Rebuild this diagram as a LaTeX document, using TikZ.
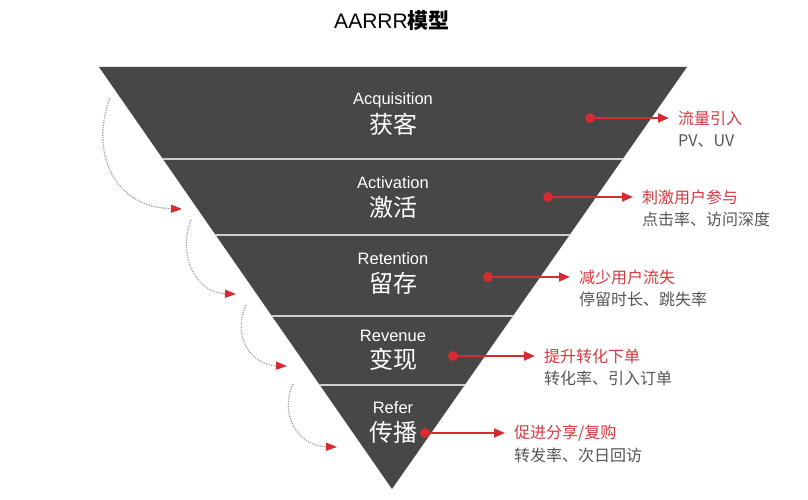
\documentclass[tikz,border=0pt]{standalone}
\usepackage{fontspec}
\setmainfont{Liberation Sans}
\newfontfamily\cjk{Noto Sans CJK SC}
\usetikzlibrary{arrows.meta}
\definecolor{funnel}{HTML}{474747}
\definecolor{sepc}{HTML}{CFCFCF}
\definecolor{redc}{HTML}{D62B32}
\definecolor{redt}{HTML}{D23A40}
\definecolor{subt}{HTML}{555555}
\definecolor{dotc}{HTML}{9A9A9A}
\begin{document}
\begin{tikzpicture}[x=1pt,y=-1pt,
  en/.style={text=white,font=\fontsize{16.5}{16.5}\selectfont,inner sep=0pt,anchor=center},
  zh/.style={text=white,font=\cjk\fontsize{24}{24}\selectfont,inner sep=0pt,anchor=center},
  reddot/.style={circle,fill=redc,minimum size=10pt,inner sep=0pt},
  redarrow/.style={draw=redc,line width=1.8pt,-{Triangle[length=11pt,width=9pt]}},
  lbl/.style={text=redt,font=\cjk\fontsize{16}{16}\selectfont,inner sep=0pt,anchor=west},
  sub/.style={text=subt,font=\cjk\fontsize{16}{16}\selectfont,inner sep=0pt,anchor=west},
  dotarc/.style={draw=dotc,line width=1.2pt,dash pattern=on 1.2pt off 1.3pt,
    -{Triangle[length=11pt,width=8pt,color=redc]}}]
\useasboundingbox (0,0) rectangle (808,500);
\fill[white] (0,0) rectangle (808,500);
% title
\node[inner sep=0pt] (title) at (392,21) {\fontsize{21}{21}\selectfont AARRR{\cjk\bfseries 模型}};
% funnel
\coordinate (tl) at (99,67);
\coordinate (tr) at (687,67);
\coordinate (ap) at (392,489);
\fill[funnel] (tl) -- (tr) -- (ap) -- cycle;
\begin{scope}
  \clip (tl) -- (tr) -- (ap) -- cycle;
  \foreach \yy in {159,235,316,385} \draw[sepc,line width=2.2pt] (0,\yy) -- (808,\yy);
\end{scope}
% stage texts
\node[en] (e1) at (393,100) {Acquisition};
\node[zh] (z1) at (393,124) {获客};
\node[en] (e2) at (393,183) {Activation};
\node[zh] (z2) at (393,207) {激活};
\node[en] (e3) at (393,259) {Retention};
\node[zh] (z3) at (393,283) {留存};
\node[en] (e4) at (393,336) {Revenue};
\node[zh] (z4) at (393,359) {变现};
\node[en] (e5) at (393,408) {Refer};
\node[zh] (z5) at (393,432) {传播};
% dots and labels
\node[reddot] (d1) at (590,118) {};
\node[lbl] (t1) at (678,118) {流量引入};
\node[sub] (s1) at (678,141) {PV、UV};
\node[reddot] (d2) at (548,197) {};
\node[lbl] (t2) at (642,197) {刺激用户参与};
\node[sub] (s2) at (642,219) {点击率、访问深度};
\node[reddot] (d3) at (488,277) {};
\node[lbl] (t3) at (579,277) {减少用户流失};
\node[sub] (s3) at (579,299) {停留时长、跳失率};
\node[reddot] (d4) at (453,356) {};
\node[lbl] (t4) at (544,356) {提升转化下单};
\node[sub] (s4) at (544,378) {转化率、引入订单};
\node[reddot] (d5) at (425,433) {};
\node[lbl] (t5) at (514,433) {促进分享/复购};
\node[sub] (s5) at (514,455) {转发率、次日回访};
\foreach \i in {1,...,5} \draw[redarrow] (d\i.center) -- ([xshift=-9pt]t\i.west);
% dotted arcs
\coordinate (a1s) at (110,98);  \coordinate (a1e) at (182,209);
\coordinate (a2s) at (191,220); \coordinate (a2e) at (236,294);
\coordinate (a3s) at (246,305); \coordinate (a3e) at (287,366);
\coordinate (a4s) at (293,384); \coordinate (a4e) at (337,447);
\draw[dotarc] (a1s) .. controls (90,150) and (112,207) .. (a1e);
\draw[dotarc] (a2s) .. controls (177,255) and (196,293) .. (a2e);
\draw[dotarc] (a3s) .. controls (232,335) and (250,365) .. (a3e);
\draw[dotarc] (a4s) .. controls (279,415) and (298,446) .. (a4e);
\end{tikzpicture}
\end{document}
